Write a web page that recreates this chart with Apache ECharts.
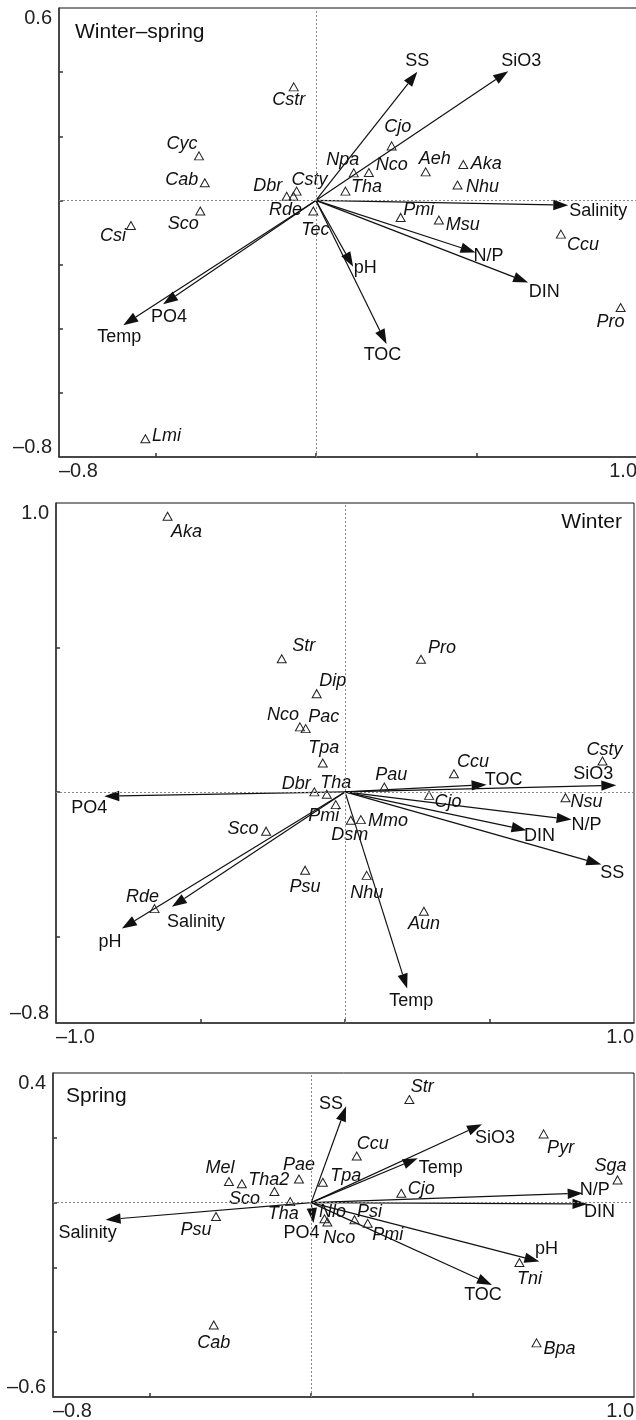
<!DOCTYPE html>
<html>
<head>
<meta charset="utf-8">
<script src="https://cdn.jsdelivr.net/npm/echarts@6/dist/echarts.min.js"></script>
<style>
    html, body { margin: 0; padding: 0; background: #fff; }
    #chart { width: 636px; height: 1420px; }
</style>
</head>
<body>
<div id="chart"></div>
<script>
// ========= 数据：Winter–spring =========
const wsXRange = [-0.8, 1.0];
const wsYRange = [-0.8, 0.6];
const wsXTicks = [-0.5, 0, 0.5];
const wsYTicks = [-0.6, -0.4, -0.2, 0, 0.2, 0.4];
const wsSpecies = ["Cstr", "Cyc", "Cab", "Sco", "Csi", "Dbr", "Csty", "Rde", "Tec", "Npa", "Nco", "Tha", "Cjo", "Aeh", "Aka", "Nhu", "Pmi", "Msu", "Ccu", "Pro", "Lmi"];
const wsSpX = [-0.069, -0.364, -0.346, -0.360, -0.576, -0.091, -0.060, -0.070, -0.008, 0.118, 0.165, 0.092, 0.236, 0.342, 0.459, 0.441, 0.264, 0.383, 0.763, 0.949, -0.531];
const wsSpY = [0.354, 0.139, 0.055, -0.033, -0.078, 0.013, 0.029, 0.013, -0.033, 0.086, 0.087, 0.029, 0.170, 0.089, 0.112, 0.048, -0.053, -0.061, -0.105, -0.334, -0.743];
const wsEnv = ["SS", "SiO3", "Salinity", "N/P", "DIN", "pH", "TOC", "PO4", "Temp"];
const wsEnvX = [0.316, 0.599, 0.786, 0.497, 0.661, 0.116, 0.220, -0.476, -0.600];
const wsEnvY = [0.401, 0.403, -0.015, -0.162, -0.256, -0.207, -0.448, -0.324, -0.389];

// ========= 数据：Winter =========
const wiXRange = [-1.0, 1.0];
const wiYRange = [-0.8, 1.0];
const wiXTicks = [-0.5, 0, 0.5];
const wiYTicks = [-0.5, 0, 0.5];
const wiSpecies = ["Aka", "Str", "Pro", "Dip", "Nco", "Pac", "Tpa", "Dbr", "Tha", "Pmi", "Dsm", "Mmo", "Pau", "Ccu", "Cjo", "Csty", "Nsu", "Sco", "Psu", "Rde", "Nhu", "Aun"];
const wiSpX = [-0.614, -0.219, 0.263, -0.098, -0.156, -0.136, -0.077, -0.106, -0.063, -0.032, 0.020, 0.055, 0.136, 0.377, 0.291, 0.891, 0.763, -0.273, -0.138, -0.659, 0.075, 0.273];
const wiSpY = [0.954, 0.461, 0.459, 0.340, 0.225, 0.219, 0.100, 0.000, -0.008, -0.044, -0.098, -0.096, 0.017, 0.063, -0.012, 0.107, -0.020, -0.136, -0.271, -0.404, -0.289, -0.413];
const wiEnv = ["PO4", "pH", "Salinity", "Temp", "TOC", "SiO3", "N/P", "DIN", "SS"];
const wiEnvX = [-0.833, -0.772, -0.599, 0.215, 0.490, 0.939, 0.784, 0.628, 0.887];
const wiEnvY = [-0.015, -0.473, -0.398, -0.681, 0.025, 0.023, -0.096, -0.133, -0.251];

// ========= 数据：Spring =========
const spXRange = [-0.8, 1.0];
const spYRange = [-0.6, 0.4];
const spXTicks = [-0.5, 0, 0.5];
const spYTicks = [-0.4, -0.2, 0, 0.2];
const spSpecies = ["Str", "Ccu", "Tpa", "Cjo", "Pyr", "Sga", "Mel", "Tha2", "Pae", "Sco", "Tha", "Psu", "Nlo", "Nco", "Psi", "Pmi", "Tni", "Bpa", "Cab"];
const spSpX = [0.304, 0.141, 0.036, 0.279, 0.720, 0.949, -0.255, -0.215, -0.038, -0.114, -0.065, -0.295, 0.041, 0.050, 0.134, 0.175, 0.645, 0.698, -0.302];
const spSpY = [0.318, 0.144, 0.063, 0.029, 0.212, 0.070, 0.065, 0.058, 0.073, 0.034, 0.003, -0.043, -0.050, -0.060, -0.053, -0.064, -0.185, -0.433, -0.378];
const spEnv = ["SS", "SiO3", "Temp", "N/P", "DIN", "pH", "TOC", "Salinity", "PO4"];
const spEnvX = [0.108, 0.529, 0.330, 0.841, 0.856, 0.707, 0.560, -0.637, 0.007];
const spEnvY = [0.297, 0.242, 0.137, 0.029, -0.004, -0.182, -0.254, -0.053, -0.063];

// ========= 布局：标签偏移（像素，相对于点/箭头尖） =========
const wsSpLab = [[-5, 13], [-17, -12], [-23, -3], [-17, 13], [-18, 11], [-19, -10], [13, -11], [-8, 14], [2, 19], [-11, -13], [23, -8], [21, -4], [6, -19], [9, -13], [23, -1], [25, 2], [18, -7], [24, 5], [22, 11], [-10, 14], [21, -3]];
const wsEnvLab = [[0, -11], [13, -10], [30, 6], [13, 4], [16, 9], [12, 1], [-4, 11], [6, 13], [-4, 12]];
const wiSpLab = [[19, 16], [22, -13], [21, -11], [16, -13], [-17, -12], [18, -12], [1, -15], [-18, -8], [9, -11], [-12, 11], [-1, 15], [27, 1], [7, -12], [19, -12], [19, 7], [2, -11], [21, 4], [-23, -2], [0, 17], [-12, -12], [0, 18], [0, 13]];
const wiEnvLab = [[-15, 12], [-12, 13], [24, 15], [4, 12], [17, -5], [-23, -11], [15, 5], [13, 6], [11, 9]];
const spSpLab = [[13, -13], [16, -12], [23, -6], [20, -4], [17, 14], [-7, -14], [-9, -14], [27, -4], [0, -14], [-30, 7], [-7, 12], [-20, 13], [8, -7], [12, 16], [15, -8], [20, 12], [10, 16], [23, 6], [0, 18]];
const spEnvLab = [[-15, -2], [13, 14], [23, 10], [12, -3], [12, 8], [7, -13], [-9, 10], [-18, 13], [-12, 10]];

const FONT = '"Liberation Sans", Arial, Helvetica, sans-serif';
const INK = "#111";

const grids = [
    { left: 59, top: 8, width: 578, height: 449 },
    { left: 56, top: 503, width: 578, height: 520 },
    { left: 53, top: 1073, width: 581, height: 324 }
];

function fmt(v) {
    return (v < 0 ? "\u2013" : "") + Math.abs(v).toFixed(1);
}

function xAxisOf(i, range, ticks) {
    return {
        gridIndex: i, type: "value", min: range[0], max: range[1],
        axisLine: { show: true, onZero: false, lineStyle: { color: "#333", width: 1.5 } },
        axisTick: { show: true, inside: true, length: 4, customValues: ticks, lineStyle: { color: "#333", width: 1.5 } },
        axisLabel: {
            customValues: range, formatter: fmt, margin: 4,
            alignMinLabel: "left", alignMaxLabel: "right",
            fontSize: 20, fontFamily: FONT, color: "#222"
        },
        splitLine: { show: false }
    };
}

function yAxisOf(i, range, ticks) {
    return {
        gridIndex: i, type: "value", min: range[0], max: range[1],
        axisLine: { show: true, onZero: false, lineStyle: { color: "#333", width: 1.5 } },
        axisTick: { show: true, inside: true, length: 4, customValues: ticks, lineStyle: { color: "#333", width: 1.5 } },
        axisLabel: {
            customValues: range, formatter: fmt, margin: 7,
            verticalAlignMinLabel: "bottom", verticalAlignMaxLabel: "top",
            fontSize: 20, fontFamily: FONT, color: "#222"
        },
        splitLine: { show: false }
    };
}

// 环境因子箭头
function arrowSeries(i, names, xs, ys, offs) {
    return {
        type: "custom", xAxisIndex: i, yAxisIndex: i, z: 3, silent: true,
        data: xs.map((x, k) => [x, ys[k]]),
        renderItem(params, api) {
            const o = api.coord([0, 0]);
            const p = api.coord([api.value(0), api.value(1)]);
            const dx = p[0] - o[0], dy = p[1] - o[1];
            const len = Math.hypot(dx, dy) || 1;
            const ux = dx / len, uy = dy / len;
            const hl = Math.min(15, len), hw = 5.2;
            const bx = p[0] - ux * hl, by = p[1] - uy * hl;
            const off = offs[params.dataIndex];
            return {
                type: "group",
                children: [
                    { type: "line", shape: { x1: o[0], y1: o[1], x2: bx, y2: by }, style: { stroke: INK, lineWidth: 1.2 } },
                    { type: "polygon", shape: { points: [[p[0], p[1]], [bx - uy * hw, by + ux * hw], [bx + uy * hw, by - ux * hw]] }, style: { fill: INK } },
                    {
                        type: "text", x: p[0] + off[0], y: p[1] + off[1],
                        style: { text: names[params.dataIndex], fill: INK, font: "18px " + FONT, align: "center", verticalAlign: "middle" }
                    }
                ]
            };
        }
    };
}

// 物种三角形 + 零线
function speciesSeries(i, names, xs, ys, offs) {
    return {
        type: "scatter", xAxisIndex: i, yAxisIndex: i, z: 4, silent: true,
        symbol: "triangle", symbolSize: [9, 8],
        itemStyle: { color: "rgba(255,255,255,0)", borderColor: "#222", borderWidth: 1, opacity: 1 },
        label: {
            show: true, position: "inside", formatter: p => p.name,
            fontSize: 18, fontStyle: "italic", fontFamily: FONT, color: INK
        },
        data: names.map((n, k) => ({ name: n, value: [xs[k], ys[k]], label: { offset: offs[k] } })),
        markLine: {
            silent: true, symbol: "none", animation: false,
            label: { show: false },
            lineStyle: { color: "#888", type: [2, 2], width: 1 },
            data: [{ xAxis: 0 }, { yAxis: 0 }]
        }
    };
}

function titleOf(text, pos) {
    return Object.assign({
        text, padding: 0,
        textStyle: { fontSize: 21, fontWeight: "normal", fontFamily: FONT, color: INK }
    }, pos);
}

const chart = echarts.init(document.getElementById("chart"), null, { renderer: "canvas" });

chart.setOption({
    animation: false,
    backgroundColor: "#fff",
    title: [
        titleOf("Winter\u2013spring", { left: 75, top: 22 }),
        titleOf("Winter", { right: 14, top: 512 }),
        titleOf("Spring", { left: 66, top: 1086 })
    ],
    grid: grids.map(g => Object.assign({
        show: true, borderColor: INK, borderWidth: 1, containLabel: false, outerBoundsMode: "none"
    }, g)),
    xAxis: [
        xAxisOf(0, wsXRange, wsXTicks),
        xAxisOf(1, wiXRange, wiXTicks),
        xAxisOf(2, spXRange, spXTicks)
    ],
    yAxis: [
        yAxisOf(0, wsYRange, wsYTicks),
        yAxisOf(1, wiYRange, wiYTicks),
        yAxisOf(2, spYRange, spYTicks)
    ],
    series: [
        arrowSeries(0, wsEnv, wsEnvX, wsEnvY, wsEnvLab),
        speciesSeries(0, wsSpecies, wsSpX, wsSpY, wsSpLab),
        arrowSeries(1, wiEnv, wiEnvX, wiEnvY, wiEnvLab),
        speciesSeries(1, wiSpecies, wiSpX, wiSpY, wiSpLab),
        arrowSeries(2, spEnv, spEnvX, spEnvY, spEnvLab),
        speciesSeries(2, spSpecies, spSpX, spSpY, spSpLab)
    ]
});
</script>
</body>
</html>
